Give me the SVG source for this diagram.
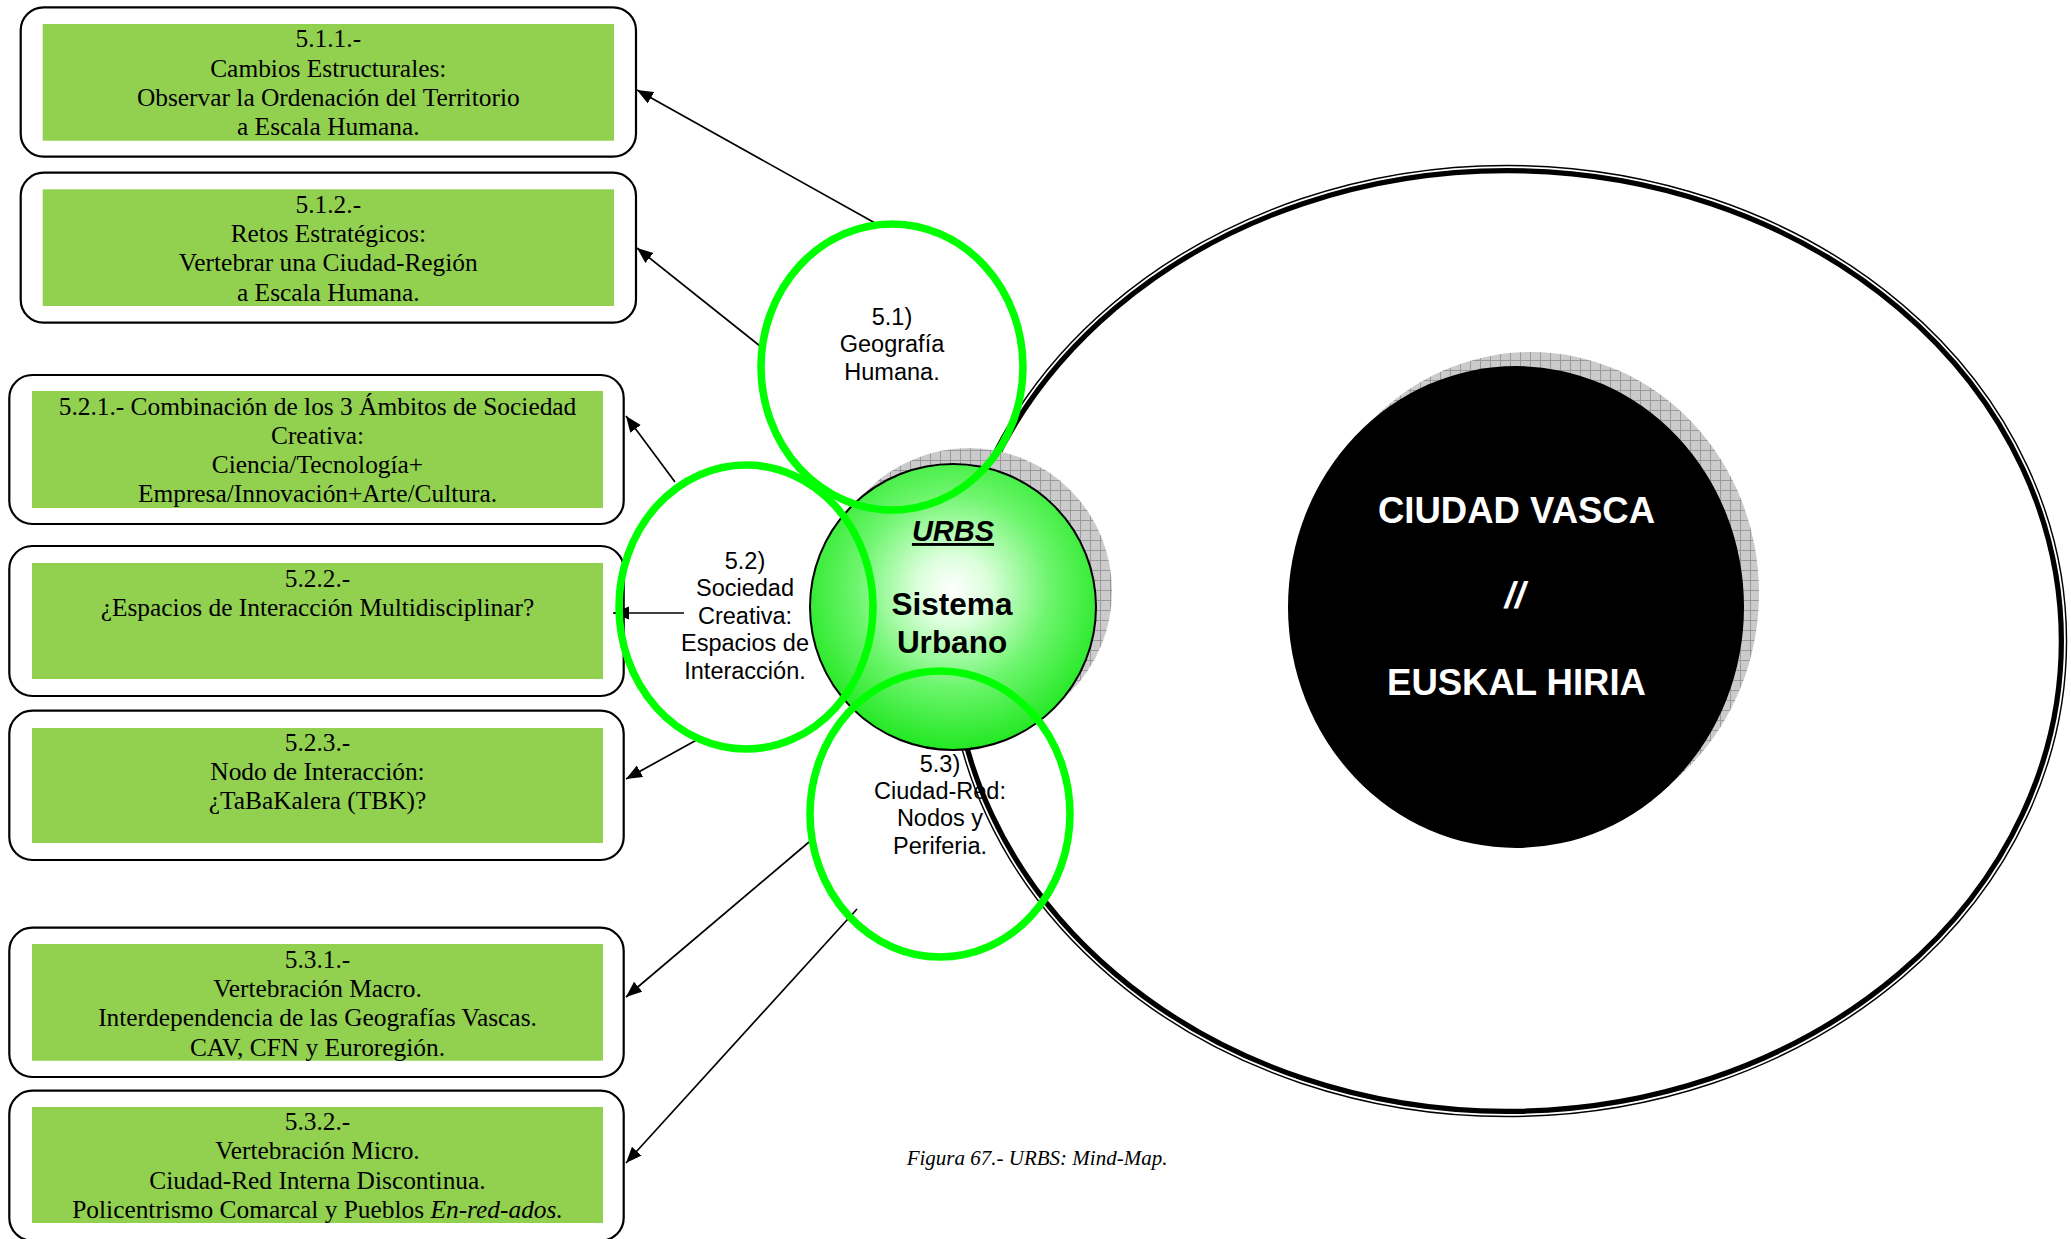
<svg xmlns="http://www.w3.org/2000/svg" width="2071" height="1239" viewBox="0 0 2071 1239">
<defs>
<style>
.box{fill:#ffffff;stroke:#000;stroke-width:2.2}
.grn{fill:#92d050}
.bt{font-family:"Liberation Serif","Times New Roman",serif;font-size:25.4px;fill:#000;text-anchor:middle}
.ct{font-family:"Liberation Sans",Arial,sans-serif;font-size:23.5px;fill:#000;text-anchor:middle}
.ring{fill:none;stroke:#00ff00;stroke-width:7.5}
.arr{stroke:#000;stroke-width:1.7;fill:none;marker-end:url(#ah)}
.big{font-family:"Liberation Sans",Arial,sans-serif;font-weight:bold;fill:#fff;text-anchor:middle}
</style>
<marker id="ah" markerUnits="userSpaceOnUse" markerWidth="18" markerHeight="14" refX="16" refY="6.5" orient="auto">
<path d="M0,0 L16,6.5 L0,13 Z" fill="#000"/>
</marker>
<pattern id="chk" width="10" height="10" patternUnits="userSpaceOnUse">
<rect width="10" height="10" fill="#cbcbcb"/>
<path d="M0,0.5H10M0.5,0V10" stroke="#9a9a9a" stroke-width="1"/>
</pattern>
<radialGradient id="gg" cx="50%" cy="44%" r="56%">
<stop offset="0" stop-color="#ffffff"/>
<stop offset="0.22" stop-color="#dcffdc"/>
<stop offset="0.6" stop-color="#6ef56e"/>
<stop offset="1" stop-color="#22e822"/>
</radialGradient>
</defs>
<rect width="2071" height="1239" fill="#fff"/>

<g id="box-511">
<rect class="box" x="20.7" y="7.3" width="615.3" height="149.4" rx="23"/>
<rect class="grn" x="42.7" y="24" width="571.3" height="116.7"/>
<text class="bt"><tspan x="328.3" y="47.3">5.1.1.-</tspan><tspan x="328.3" y="76.6">Cambios Estructurales:</tspan><tspan x="328.3" y="105.9">Observar la Ordenación del Territorio</tspan><tspan x="328.3" y="135.2">a Escala Humana.</tspan></text>
</g>
<g id="box-512">
<rect class="box" x="20.7" y="172.7" width="615.3" height="150" rx="23"/>
<rect class="grn" x="42.7" y="189.3" width="571.3" height="116.7"/>
<text class="bt"><tspan x="328.3" y="212.7">5.1.2.-</tspan><tspan x="328.3" y="242">Retos Estratégicos:</tspan><tspan x="328.3" y="271.3">Vertebrar una Ciudad-Región</tspan><tspan x="328.3" y="300.6">a Escala Humana.</tspan></text>
</g>
<g id="box-521">
<rect class="box" x="9.3" y="375" width="614.4" height="149" rx="23"/>
<rect class="grn" x="32" y="391" width="571" height="117"/>
<text class="bt"><tspan x="317.5" y="414.5">5.2.1.- Combinación de los 3 Ámbitos de Sociedad</tspan><tspan x="317.5" y="443.8">Creativa:</tspan><tspan x="317.5" y="473.1">Ciencia/Tecnología+</tspan><tspan x="317.5" y="502.4">Empresa/Innovación+Arte/Cultura.</tspan></text>
</g>
<g id="box-522">
<rect class="box" x="9.3" y="546" width="614.4" height="150" rx="23"/>
<rect class="grn" x="32" y="563" width="571" height="116"/>
<text class="bt"><tspan x="317.5" y="586.7">5.2.2.-</tspan><tspan x="317.5" y="616">¿Espacios de Interacción Multidisciplinar?</tspan></text>
</g>
<g id="box-523">
<rect class="box" x="9.3" y="710.7" width="614.4" height="149.3" rx="23"/>
<rect class="grn" x="32" y="728" width="571" height="115"/>
<text class="bt"><tspan x="317.5" y="750.7">5.2.3.-</tspan><tspan x="317.5" y="780">Nodo de Interacción:</tspan><tspan x="317.5" y="809.3">¿TaBaKalera (TBK)?</tspan></text>
</g>
<g id="box-531">
<rect class="box" x="9.3" y="927.7" width="614.4" height="149.3" rx="23"/>
<rect class="grn" x="32" y="944" width="571" height="116.7"/>
<text class="bt"><tspan x="317.5" y="967.7">5.3.1.-</tspan><tspan x="317.5" y="997">Vertebración Macro.</tspan><tspan x="317.5" y="1026.3">Interdependencia de las Geografías Vascas.</tspan><tspan x="317.5" y="1055.6">CAV, CFN y Euroregión.</tspan></text>
</g>
<g id="box-532">
<rect class="box" x="9.3" y="1090.7" width="614.4" height="150" rx="23"/>
<rect class="grn" x="32" y="1107" width="571" height="116"/>
<text class="bt"><tspan x="317.5" y="1130">5.3.2.-</tspan><tspan x="317.5" y="1159.3">Vertebración Micro.</tspan><tspan x="317.5" y="1188.6">Ciudad-Red Interna Discontinua.</tspan><tspan x="317.5" y="1217.9">Policentrismo Comarcal y Pueblos <tspan font-style="italic">En-red-ados.</tspan></tspan></text>
</g>

<g id="connectors">
<line class="arr" x1="875" y1="223" x2="637" y2="90"/>
<line class="arr" x1="760" y1="346" x2="637" y2="248"/>
<line class="arr" x1="675" y1="482" x2="626" y2="416"/>
<line class="arr" x1="684" y1="613" x2="613" y2="613"/>
<line class="arr" x1="702" y1="737" x2="626" y2="779"/>
<line class="arr" x1="809" y1="842" x2="626" y2="997"/>
<line class="arr" x1="857" y1="909" x2="626" y2="1163"/>
</g>

<g id="ciudad-vasca">
<ellipse cx="1507" cy="641" rx="556" ry="472" fill="none" stroke="#000" stroke-width="8.5"/>
<ellipse cx="1507" cy="641" rx="557.9" ry="473.9" fill="none" stroke="#fff" stroke-width="1.8"/>
<ellipse cx="1531" cy="593" rx="228" ry="241" fill="url(#chk)"/>
<ellipse cx="1516" cy="607" rx="228" ry="241" fill="#000"/>
<text class="big" x="1516.5" y="523.3" font-size="36.5">CIUDAD VASCA</text>
<text class="big" x="1515" y="608.3" font-size="36.5" font-style="italic">//</text>
<text class="big" x="1516.5" y="695" font-size="36.5">EUSKAL HIRIA</text>
</g>

<g id="urbs">
<circle cx="969" cy="591" r="143" fill="url(#chk)"/>
<circle cx="953" cy="607" r="143" fill="url(#gg)" stroke="#000" stroke-width="2"/>
<text x="953" y="541" font-family="'Liberation Sans',Arial,sans-serif" font-size="29" font-weight="bold" font-style="italic" text-decoration="underline" text-anchor="middle">URBS</text>
<text font-family="'Liberation Sans',Arial,sans-serif" font-size="31.5" font-weight="bold" text-anchor="middle"><tspan x="952" y="615">Sistema</tspan><tspan x="952" y="652.7">Urbano</tspan></text>
</g>

<g id="node-51">
<ellipse class="ring" cx="892" cy="367" rx="131" ry="143"/>
<text class="ct"><tspan x="892" y="325">5.1)</tspan><tspan x="892" y="352.3">Geografía</tspan><tspan x="892" y="379.6">Humana.</tspan></text>
</g>
<g id="node-52">
<ellipse class="ring" cx="746" cy="607" rx="127" ry="142"/>
<text class="ct"><tspan x="745" y="568.5">5.2)</tspan><tspan x="745" y="596">Sociedad</tspan><tspan x="745" y="623.5">Creativa:</tspan><tspan x="745" y="651">Espacios de</tspan><tspan x="745" y="678.5">Interacción.</tspan></text>
</g>
<g id="node-53">
<ellipse class="ring" cx="940" cy="814" rx="130" ry="143"/>
<text class="ct"><tspan x="940" y="771.7">5.3)</tspan><tspan x="940" y="799">Ciudad-Red:</tspan><tspan x="940" y="826.3">Nodos y</tspan><tspan x="940" y="853.6">Periferia.</tspan></text>
</g>

<text x="906.7" y="1165" font-family="'Liberation Serif','Times New Roman',serif" font-size="21" font-style="italic">Figura 67.- URBS: Mind-Map.</text>
</svg>
